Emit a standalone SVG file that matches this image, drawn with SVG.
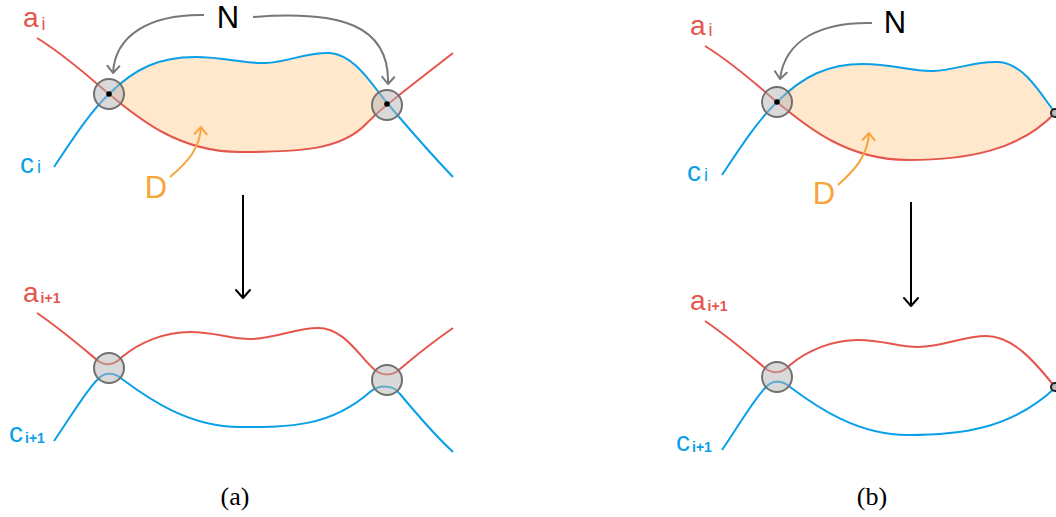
<svg xmlns="http://www.w3.org/2000/svg" width="1056" height="517" viewBox="0 0 1056 517">
<defs>
<marker id="vg" markerUnits="userSpaceOnUse" markerWidth="20" markerHeight="20" refX="0" refY="0" viewBox="-10 -10 20 20" orient="auto" overflow="visible">
<path d="M-7,-6 L0,0 L-7,6" fill="none" stroke="#777" stroke-width="2" stroke-linecap="round" stroke-linejoin="round"/>
</marker>
<marker id="vo" markerUnits="userSpaceOnUse" markerWidth="20" markerHeight="20" refX="0" refY="0" viewBox="-10 -10 20 20" orient="auto" overflow="visible">
<path d="M-7,-6 L0,0 L-7,6" fill="none" stroke="#f7a53a" stroke-width="2" stroke-linecap="round" stroke-linejoin="round"/>
</marker>
<marker id="vk" markerUnits="userSpaceOnUse" markerWidth="20" markerHeight="20" refX="0" refY="0" viewBox="-10 -10 20 20" orient="auto" overflow="visible">
<path d="M-8,-7 L0,0 L-8,7" fill="none" stroke="#000" stroke-width="2" stroke-linecap="round" stroke-linejoin="round"/>
</marker>
</defs>
<style>
.red{fill:none;stroke:#e5554c;stroke-width:2}
.blue{fill:none;stroke:#0aa0e8;stroke-width:2}
.disk{fill:#b4b4b4;fill-opacity:0.5;stroke:#707070;stroke-width:2}
.dfill{fill:#ffe8cc;stroke:none}
.garr{fill:none;stroke:#777;stroke-width:2;marker-end:url(#vg)}
.oarr{fill:none;stroke:#f7a53a;stroke-width:2;marker-end:url(#vo)}
.karr{fill:none;stroke:#000;stroke-width:2;marker-end:url(#vk)}
.lbl{font-family:"Liberation Sans","Noto Sans",sans-serif}
.rt{fill:#e5554c}
.bt{fill:#0aa0e8}
.sub{font-size:14px;font-weight:bold}
.cap{font-family:"Liberation Serif",serif;font-size:26px;fill:#000;text-anchor:middle}
</style>

<g id="panel-a-top">
<path class="dfill" d="M109,94 C135,68 160,57 195,57 C225,57 245,64 265,63 C290,62 305,52 330,53 C355,55 372,85 388,104 C383,108 375,115 365,125 C340,150 300,152 240,152 C180,152 140,120 109,94 Z"/>
<path class="red" d="M37,38 C65,55 90,78 109,94 C140,120 180,152 240,152 C300,152 340,150 365,125 C375,115 383,108 388,104 C410,86 435,67 453,53"/>
<path class="blue" d="M54,167 C72,140 90,112 109,94 C135,68 160,57 195,57 C225,57 245,64 265,63 C290,62 305,52 330,53 C355,55 372,85 388,104 C410,130 432,155 453,177"/>
<circle class="disk" cx="109" cy="94" r="15"/>
<circle class="disk" cx="387" cy="105" r="15"/>
<circle cx="109" cy="94" r="2.8" fill="#000"/>
<circle cx="387" cy="104" r="2.8" fill="#000"/>
<text class="lbl rt" x="23" y="27" font-size="28">a<tspan font-size="18" dx="3" dy="3">i</tspan></text>
<text class="lbl bt" x="20" y="173" font-size="28">c<tspan font-size="18" dx="3" dy="0">i</tspan></text>
<text class="lbl" x="228" y="28" font-size="31" text-anchor="middle">N</text>
<text class="lbl" x="156" y="198" font-size="31" text-anchor="middle" fill="#f7a53a">D</text>
</g>

<g id="panel-a-bottom">
<path class="red" d="M37,313 C62,330 85,350 97,360 C104,366 114,366 122,357 C140,342 165,332 190,332 C215,332 230,339 250,339 C275,339 295,328 318,328 C345,328 360,358 375,370 C382,376 393,376 400,369 C420,352 440,337 453,328"/>
<path class="blue" d="M54,441 C70,418 85,392 98,379 C104,372 114,372 122,379 C150,400 190,427 240,427 C290,427 330,427 370,392 C378,385 393,384 400,394 C420,418 440,440 453,452"/>
<circle class="disk" cx="109" cy="368" r="15"/>
<circle class="disk" cx="387" cy="380" r="15"/>
<text class="lbl rt" x="23" y="302" font-size="28">a<tspan class="sub" dx="2" dy="1">i+1</tspan></text>
<text class="lbl bt" x="9" y="442" font-size="28">c<tspan class="sub" dx="2" dy="1">i+1</tspan></text>
</g>

<g id="panel-b-top">
<path class="dfill" d="M777,102 C803,76 828,64 863,64 C893,64 913,72 933,71 C958,70 973,61 998,62 C1023,63 1040,92 1055,113 C1020,150 968,160 908,160 C848,160 808,128 777,102 Z"/>
<path class="red" d="M705,46 C733,63 758,86 777,102 C808,128 848,160 908,160 C968,160 1020,150 1055,113"/>
<path class="blue" d="M722,175 C740,148 758,120 777,102 C803,76 828,64 863,64 C893,64 913,72 933,71 C958,70 973,61 998,62 C1023,63 1040,92 1055,113"/>
<circle class="disk" cx="777" cy="102" r="15"/>
<circle cx="777" cy="102" r="2.8" fill="#000"/>
<circle cx="1055" cy="113" r="4" fill="#bbb" stroke="#222" stroke-width="2"/>
<text class="lbl rt" x="690" y="35" font-size="28">a<tspan font-size="18" dx="3" dy="1">i</tspan></text>
<text class="lbl bt" x="687" y="181" font-size="28">c<tspan font-size="18" dx="3" dy="0">i</tspan></text>
<text class="lbl" x="895" y="33" font-size="31" text-anchor="middle">N</text>
<text class="lbl" x="824" y="204" font-size="31" text-anchor="middle" fill="#f7a53a">D</text>
</g>

<g id="panel-b-bottom">
<path class="red" d="M705,321 C730,338 753,358 765,368 C772,374 782,374 790,365 C808,350 833,340 858,340 C883,340 898,347 918,347 C943,347 963,336 986,336 C1013,336 1035,362 1055,387"/>
<path class="blue" d="M722,450 C738,427 753,400 766,387 C772,380 782,380 790,387 C818,408 858,435 908,435 C958,435 1010,430 1055,388"/>
<circle class="disk" cx="777" cy="377" r="15"/>
<circle cx="1055" cy="387" r="4" fill="#bbb" stroke="#222" stroke-width="2"/>
<text class="lbl rt" x="690" y="310" font-size="28">a<tspan class="sub" dx="2" dy="1">i+1</tspan></text>
<text class="lbl bt" x="676" y="451" font-size="28">c<tspan class="sub" dx="2" dy="1">i+1</tspan></text>
</g>

<g id="connectors">
<path class="garr" d="M204,15 C150,14 115,35 113,73"/>
<path class="garr" d="M253,17 C340,10 390,25 388,84"/>
<path class="garr" d="M872,23 C820,22 785,40 780,79"/>
<path class="oarr" d="M170,177 C188,162 200,148 201,127"/>
<path class="oarr" d="M838,185 C855,170 868,155 869,133"/>
<path class="karr" d="M243,195 L243,298"/>
<path class="karr" d="M911,202 L911,306"/>
</g>

<g id="captions">
<text class="cap" x="235" y="505">(a)</text>
<text class="cap" x="872" y="505">(b)</text>
</g>
</svg>
